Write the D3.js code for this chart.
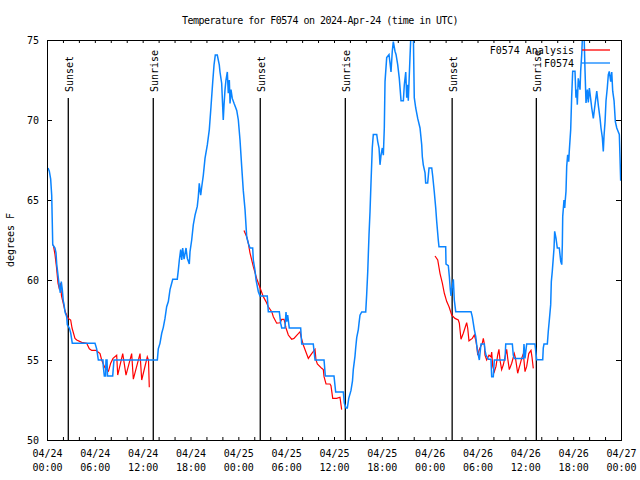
<!DOCTYPE html>
<html><head><meta charset="utf-8">
<script src="https://cdn.jsdelivr.net/npm/d3@7"></script>
<style>
body{margin:0;background:#fff}
text{font-family:"DejaVu Sans Mono","Liberation Mono",monospace;font-size:10px;fill:#000}
text.title{letter-spacing:-0.5px}
</style>
</head><body>
<svg id="c" width="640" height="480"></svg>
<script>
const titleText = "Temperature for F0574 on 2024-Apr-24 (time in UTC)";
const yLabel = "degrees F";
const yTicks = [50, 55, 60, 65, 70, 75];
const xMinorHours = d3.range(0, 73, 2);
const xTickHours = [0, 6, 12, 18, 24, 30, 36, 42, 48, 54, 60, 66, 72];
const xTickDates = ["04/24","04/24","04/24","04/24","04/25","04/25","04/25","04/25","04/26","04/26","04/26","04/26","04/27"];
const xTickTimes = ["00:00","06:00","12:00","18:00","00:00","06:00","12:00","18:00","00:00","06:00","12:00","18:00","00:00"];
const sunsetHours = [2.67, 26.75, 50.82];
const sunriseHours = [13.33, 37.42, 61.38];
const seriesNames = ["F0574 Analysis", "F0574"];

// station observations [hours since 04/24 00:00 UTC, deg F]
const station = [
[0.13,67.0],[0.29,66.8],[0.46,66.3],[0.59,65.3],[0.65,63.9],[0.72,62.2],[1.00,62.0],[1.13,61.7],[1.22,61.0],[1.38,60.3],
[1.54,59.6],[1.67,59.2],[1.79,59.9],[1.92,59.4],[2.04,58.7],[2.13,58.5],[2.26,58.0],[2.47,57.7],[2.55,57.2],[2.80,57.0],
[2.97,56.7],[3.17,56.05],[6.02,56.05],[6.23,55.7],[6.44,55.0],[7.02,55.0],[7.06,54.6],[7.19,54.0],[7.34,54.0],[7.40,55.0],
[7.53,55.0],[7.59,54.0],[8.24,54.0],[8.40,55.0],[13.84,55.0],[13.96,55.7],[14.17,56.04],[14.39,56.67],[14.59,57.04],[14.80,57.6],
[15.01,58.33],[15.22,58.65],[15.43,59.4],[15.64,59.8],[15.77,60.04],[16.34,60.04],[16.47,60.6],[16.60,61.25],[16.77,61.9],[16.90,61.25],
[17.02,62.0],[17.19,61.3],[17.44,62.0],[17.60,61.35],[17.85,61.0],[17.94,61.77],[18.15,62.5],[18.35,63.44],[18.57,64.06],[18.85,64.6],
[18.98,65.2],[19.10,66.04],[19.28,65.3],[19.41,65.83],[19.61,66.56],[19.82,67.6],[20.11,68.44],[20.36,69.4],[20.57,70.83],[20.79,72.4],
[20.95,73.44],[21.11,74.06],[21.36,74.06],[21.61,73.44],[21.70,73.0],[21.91,72.3],[22.04,70.8],[22.11,70.0],[22.20,70.9],[22.33,71.9],
[22.45,72.5],[22.62,73.0],[22.74,71.67],[22.87,72.5],[22.96,71.04],[23.08,71.9],[23.24,71.35],[23.46,71.04],[23.80,70.6],[24.00,70.0],
[24.21,68.75],[24.42,67.1],[24.62,65.6],[24.84,64.4],[25.05,62.7],[25.25,62.3],[25.46,62.0],[25.80,62.0],[25.88,61.25],[26.09,60.6],
[26.22,60.0],[26.51,59.27],[26.72,59.0],[27.63,59.0],[27.76,58.02],[29.14,58.02],[29.31,57.3],[29.44,57.0],[29.85,57.0],[29.98,58.0],
[30.07,57.4],[30.19,57.8],[30.39,57.0],[31.82,57.0],[31.95,56.0],[33.40,56.0],[33.62,55.0],[34.75,55.0],[34.91,54.0],[36.00,54.0],
[36.21,53.0],[37.17,53.0],[37.29,52.3],[37.51,52.0],[37.67,52.0],[37.85,52.6],[38.13,53.1],[38.32,53.7],[38.42,54.4],[38.63,55.23],
[38.72,55.75],[38.85,56.4],[39.05,56.9],[39.14,57.3],[39.26,57.8],[39.48,58.0],[39.98,58.0],[40.10,59.1],[40.23,60.5],[40.39,62.8],
[40.52,64.3],[40.64,66.06],[40.80,68.25],[40.93,69.1],[41.36,69.1],[41.48,68.67],[41.65,68.25],[41.77,67.2],[41.90,67.8],[42.06,68.25],
[42.19,67.8],[42.31,69.5],[42.40,72.4],[42.61,73.9],[42.90,74.08],[43.03,73.56],[43.15,73.0],[43.31,74.3],[43.44,74.9],[43.65,74.3],
[43.78,74.1],[43.99,73.46],[44.19,72.6],[44.41,71.2],[44.70,71.2],[44.82,72.2],[45.00,73.0],[45.12,71.4],[45.25,72.2],[45.32,71.2],
[45.53,73.9],[45.66,75.5],[45.95,75.5],[46.07,71.4],[46.25,70.75],[46.50,70.1],[46.79,69.5],[47.00,68.46],[47.08,67.7],[47.20,67.2],
[47.42,66.7],[47.50,66.06],[47.75,66.06],[47.92,67.0],[48.26,67.0],[48.38,66.5],[48.58,65.5],[48.76,64.5],[48.88,63.67],[49.08,62.5],
[49.17,62.08],[50.01,62.08],[50.05,61.0],[50.34,60.9],[50.47,60.2],[50.59,59.4],[50.68,59.0],[50.84,59.6],[50.97,60.04],[51.09,58.75],
[51.27,58.02],[53.19,58.02],[53.35,57.7],[53.60,56.9],[53.78,56.46],[53.90,55.94],[54.03,55.5],[54.23,55.0],[54.44,56.0],[54.86,56.0],
[54.94,55.6],[55.07,55.3],[55.36,55.04],[55.69,55.04],[55.78,53.96],[55.98,53.96],[56.11,55.0],[57.45,55.0],[57.54,56.0],[58.37,56.0],
[58.49,55.3],[58.62,55.1],[59.75,55.1],[59.83,56.0],[59.96,55.1],[60.17,56.0],[61.21,56.0],[61.42,55.02],[62.18,55.02],[62.25,55.75],
[62.34,56.0],[62.76,56.0],[62.88,56.8],[63.01,57.5],[63.18,58.46],[63.26,59.9],[63.38,60.54],[63.51,61.4],[63.60,62.0],[63.68,63.04],
[63.85,62.6],[64.01,62.0],[64.26,62.0],[64.44,61.17],[64.57,60.96],[64.64,62.2],[64.69,63.98],[64.85,65.0],[64.94,64.5],[65.01,65.0],
[65.10,65.54],[65.19,67.1],[65.31,67.83],[65.44,67.4],[65.51,68.04],[65.69,69.4],[65.81,71.4],[65.94,73.04],[66.23,73.04],[66.35,71.4],
[66.44,71.9],[66.52,70.96],[66.64,72.6],[66.86,71.9],[66.94,73.04],[67.07,74.08],[67.19,75.5],[67.36,75.5],[67.49,73.04],[67.61,71.06],
[67.78,71.9],[67.90,71.1],[68.03,72.0],[68.20,71.3],[68.33,70.75],[68.53,70.1],[68.74,70.96],[68.96,71.8],[69.16,70.9],[69.37,70.1],
[69.49,69.5],[69.66,68.9],[69.78,68.04],[69.87,69.0],[70.00,69.9],[70.12,71.2],[70.28,72.0],[70.41,72.83],[70.53,73.04],[70.71,72.4],
[70.84,73.0],[70.96,71.8],[71.13,71.2],[71.29,69.9],[71.47,69.5],[71.63,69.3],[71.79,69.1],[71.88,67.6],[71.96,66.2]
];

// analysis segments [hours, deg F]
const analysisDay1 = [
[0.79,62.2],[1.00,61.6],[1.19,60.8],[1.38,59.8],[1.57,59.4],[1.69,59.8],[1.82,59.0],[2.01,58.6],[2.20,58.2],[2.38,57.9],
[2.67,57.6],[2.97,57.5],[3.14,57.0],[3.51,56.35],[3.73,56.25],[4.35,56.1],[4.98,56.04],[5.31,55.7],[5.61,55.6],[6.15,55.6],
[6.65,55.4],[6.86,55.0],[7.02,54.8],[7.28,54.5],[7.71,54.3],[7.99,54.8],[8.28,55.1],[8.74,55.3],[8.87,54.06],[9.50,55.4],
[9.91,54.06],[10.62,55.4],[10.83,53.8],[11.67,55.4],[11.88,53.75],[12.58,55.2],[12.73,55.0],[12.83,53.3]
];
const analysisDay2 = [
[24.71,63.1],[25.05,62.7],[25.25,62.3],[25.46,61.7],[25.88,60.83],[26.30,60.1],[26.51,59.8],[26.81,59.4],[27.13,58.96],[27.47,58.65],
[27.76,58.33],[28.19,58.02],[28.39,57.7],[28.81,57.3],[29.23,57.33],[29.44,57.54],[29.73,57.54],[29.85,57.3],[29.98,57.0],[30.27,56.56],
[30.69,56.3],[30.98,56.35],[31.74,56.77],[31.86,56.46],[32.15,55.94],[32.78,55.1],[33.20,55.4],[33.62,55.67],[33.74,55.0],[33.91,54.75],
[34.46,54.48],[34.66,54.4],[34.75,53.96],[35.00,53.5],[35.50,53.5],[35.62,53.4],[35.84,52.6],[36.34,52.6],[36.75,52.67],[36.96,51.9]
];
const analysisDay3 = [
[48.67,61.5],[49.01,61.25],[49.30,60.4],[49.59,59.8],[49.84,59.17],[50.14,58.65],[50.43,58.33],[50.77,57.8],[51.18,57.6],[51.59,57.5],
[51.72,57.3],[51.93,56.3],[52.22,56.67],[52.64,57.33],[52.77,57.0],[52.93,56.2],[53.35,56.35],[53.60,56.56],[53.78,56.25],[53.90,55.9],
[54.03,55.3],[54.19,55.6],[54.44,55.9],[54.60,56.04],[54.73,56.35],[54.86,56.0],[54.94,55.3],[55.15,55.0],[55.44,55.3],[55.69,55.2],
[55.78,55.5],[55.91,54.6],[56.11,54.27],[56.32,54.6],[56.53,55.3],[56.69,55.67],[56.82,55.0],[57.03,54.4],[57.24,54.7],[57.45,55.2],
[57.66,55.67],[57.79,55.1],[57.99,54.4],[58.29,54.8],[58.62,55.4],[58.77,55.1],[59.04,54.17],[59.21,54.5],[59.33,54.7],[59.54,55.1],
[59.75,55.4],[59.96,54.27],[60.17,54.6],[60.43,55.4],[60.71,55.6],[60.83,55.2],[61.00,54.48]
];

const svg = d3.select("#c");
const L = 47, R = 621, T = 40, B = 440;
const x = d3.scaleLinear().domain([0, 72]).range([L, R]);
const y = d3.scaleLinear().domain([50, 75]).range([B, T]);
const red = "#ff0000", blue = "#0a84ff";

svg.append("defs").append("clipPath").attr("id","clip")
  .append("rect").attr("x", L).attr("y", T).attr("width", R - L).attr("height", B - T);

// title & y label
svg.append("text").attr("class", "title").attr("x", 320).attr("y", 20).attr("dy", "0.35em").attr("text-anchor", "middle").text(titleText);
svg.append("text").attr("transform", "translate(10,240) rotate(-90)").attr("dy", "0.35em")
  .attr("text-anchor", "middle").text(yLabel);

// axes
const ax = (g) => { g.select(".domain").remove(); g.selectAll(".tick line").attr("stroke", "#000"); };
svg.append("g").attr("transform", `translate(${L},0)`)
  .call(d3.axisLeft(y).tickValues(yTicks).tickSize(-5).tickPadding(8).tickFormat(d3.format("d")))
  .call(ax);
svg.append("g").attr("transform", `translate(${R},0)`)
  .call(d3.axisRight(y).tickValues(yTicks).tickSize(-5).tickFormat("")).call(ax);
svg.append("g").attr("transform", `translate(0,${B})`)
  .call(d3.axisBottom(x).tickValues(xMinorHours).tickSize(-3).tickFormat("")).call(ax);
svg.append("g").attr("transform", `translate(0,${T})`)
  .call(d3.axisTop(x).tickValues(xMinorHours).tickSize(-3).tickFormat("")).call(ax);
const xl = svg.append("g").attr("transform", `translate(0,${B})`)
  .call(d3.axisBottom(x).tickValues(xTickHours).tickSize(0).tickPadding(10).tickFormat(""))
  .call(ax);
xl.selectAll(".tick text").each(function(d, i) {
  const t = d3.select(this);
  t.append("tspan").attr("x", 0).text(xTickDates[i]);
  t.append("tspan").attr("x", 0).attr("dy", 14).text(xTickTimes[i]);
});
svg.selectAll("g").attr("font-family", null).attr("font-size", null);

// sunset / sunrise markers
const markers = sunsetHours.map(h => ({h, label: "Sunset"}))
  .concat(sunriseHours.map(h => ({h, label: "Sunrise"})));
const mk = svg.append("g");
mk.selectAll("line").data(markers).join("line")
  .attr("x1", d => x(d.h)).attr("x2", d => x(d.h)).attr("y1", 98).attr("y2", B)
  .attr("stroke", "#000").attr("stroke-width", 1.3);
mk.selectAll("text").data(markers).join("text")
  .attr("transform", d => `translate(${x(d.h) + 1.5},92) rotate(-90)`).attr("dy", "0.35em")
  .text(d => d.label);

// series
const line = d3.line().x(d => x(d[0])).y(d => y(d[1]));
const plot = svg.append("g").attr("clip-path", "url(#clip)");
[analysisDay1, analysisDay2, analysisDay3].forEach(seg => {
  plot.append("path").datum(seg).attr("d", line).attr("fill", "none").attr("stroke", red).attr("stroke-width", 1.2);
});
plot.append("path").datum(station).attr("d", line).attr("fill", "none").attr("stroke", blue).attr("stroke-width", 1.5);

// legend
const lg = svg.append("g");
[[seriesNames[0], red, 50], [seriesNames[1], blue, 63]].forEach(([name, col, yy]) => {
  lg.append("text").attr("x", 574).attr("y", yy).attr("dy", "0.35em").attr("text-anchor", "end").text(name);
  lg.append("line").attr("x1", 582).attr("x2", 610).attr("y1", yy).attr("y2", yy).attr("stroke", col).attr("stroke-width", 1.3);
});

// frame
svg.append("rect").attr("x", L).attr("y", T).attr("width", R - L).attr("height", B - T)
  .attr("fill", "none").attr("stroke", "#000").attr("stroke-width", 1).attr("shape-rendering", "crispEdges");
</script>
</body></html>
